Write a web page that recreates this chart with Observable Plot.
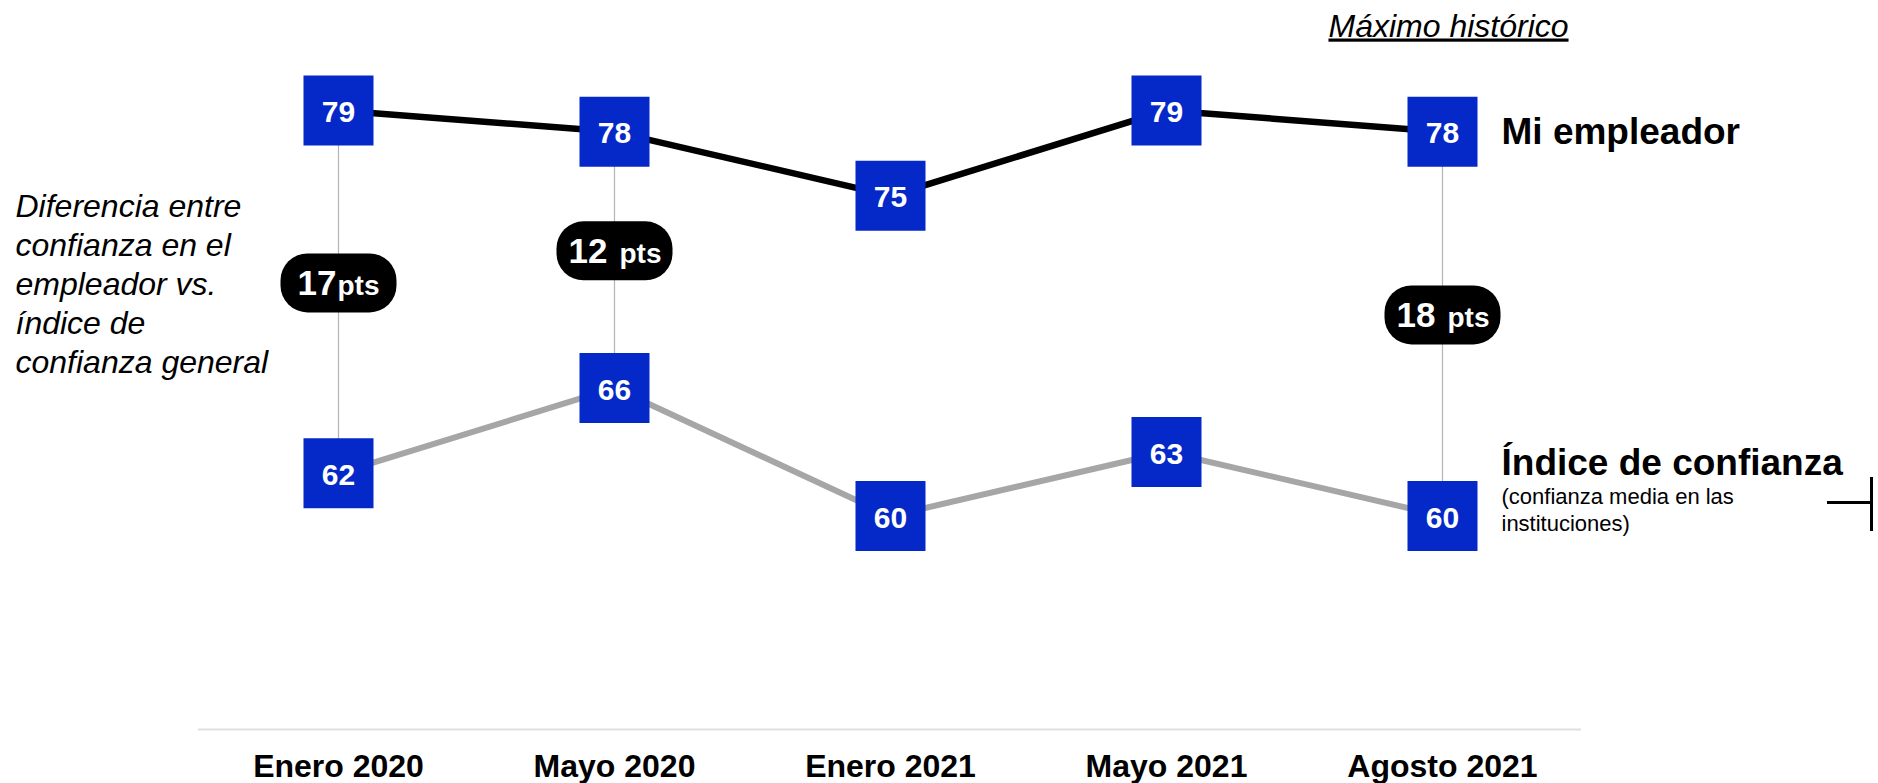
<!DOCTYPE html>
<html>
<head>
<meta charset="utf-8">
<script src="https://cdn.jsdelivr.net/npm/d3@7"></script>
<script src="https://cdn.jsdelivr.net/npm/@observablehq/plot@0.6"></script>
<style>
  html, body { margin: 0; padding: 0; background: #fff; }
  #chart { position: relative; width: 1878px; height: 783px; overflow: hidden; }
  #chart svg { display: block; }
  .bracket-h { position: absolute; left: 1827px; top: 501px; width: 45px; height: 3px; background: #000; }
  .bracket-v { position: absolute; left: 1870px; top: 477px; width: 3px; height: 54px; background: #000; }
</style>
</head>
<body>
<div id="chart"></div>
<script>
// ---- data ----
const dates = ["Enero 2020", "Mayo 2020", "Enero 2021", "Mayo 2021", "Agosto 2021"];
const employer = [79, 78, 75, 79, 78];
const trustIndex = [62, 66, 60, 63, 60];
const gapDates = ["Enero 2020", "Mayo 2020", "Agosto 2021"];
const gapLabels = ["17pts", "12 pts", "18 pts"];
const seriesNames = ["Mi empleador", "Índice de confianza"];
const indexNote = "(confianza media en las\ninstituciones)";
const peakNote = "Máximo histórico";
const peakDate = "Agosto 2021";
const sideNote = "Diferencia entre\nconfianza en el\nempleador vs.\níndice de\nconfianza general";

// ---- derived tables ----
const emp = dates.map((d, i) => ({date: d, value: employer[i]}));
const idx = dates.map((d, i) => ({date: d, value: trustIndex[i]}));
const gaps = gapDates.map((d, i) => {
  const j = dates.indexOf(d);
  const m = gapLabels[i].match(/^(\d+)(\s*)(.*)$/);
  return {date: d, top: employer[j], bottom: trustIndex[j], mid: (employer[j] + trustIndex[j]) / 2,
          num: m[1], spaced: m[2].length > 0, unit: m[3]};
});

const BLUE = "#0529c8";
const FONT = "'Liberation Sans', Arial, Helvetica, sans-serif";

// rounded pill symbol
const pill = {
  draw(ctx) {
    const w = 116, h = 59, r = 27;
    const x0 = -w / 2, x1 = w / 2, y0 = -h / 2, y1 = h / 2;
    ctx.moveTo(x0 + r, y0);
    ctx.lineTo(x1 - r, y0);
    ctx.arcTo(x1, y0, x1, y0 + r, r);
    ctx.lineTo(x1, y1 - r);
    ctx.arcTo(x1, y1, x1 - r, y1, r);
    ctx.lineTo(x0 + r, y1);
    ctx.arcTo(x0, y1, x0, y1 - r, r);
    ctx.lineTo(x0, y0 + r);
    ctx.arcTo(x0, y0, x0 + r, y0, r);
    ctx.closePath();
  }
};

const chart = Plot.plot({
  width: 1878,
  height: 783,
  marginTop: 88.6,
  marginBottom: 54,
  marginLeft: 198,
  marginRight: 297,
  x: {type: "point", domain: dates, padding: 0.5, axis: null},
  y: {domain: [50, 80], axis: null},
  style: {fontFamily: FONT, background: "#fff", color: "#000", overflow: "visible"},
  marks: [
    Plot.ruleY([50], {stroke: "#e0e0e0", strokeWidth: 2}),
    Plot.axisX({tickSize: 0, tickPadding: 25, fontSize: 32, fontWeight: "bold", label: null}),
    Plot.ruleX(gaps, {x: "date", y1: "top", y2: "bottom", stroke: "#b4b4b4", strokeWidth: 1.2}),
    Plot.line(idx, {x: "date", y: "value", stroke: "#a6a6a6", strokeWidth: 6}),
    Plot.line(emp, {x: "date", y: "value", stroke: "#000", strokeWidth: 6.5}),
    Plot.dot([...emp, ...idx], {x: "date", y: "value", symbol: "square", r: 39.5, fill: BLUE, stroke: null}),
    Plot.text([...emp, ...idx], {x: "date", y: "value", text: "value", fill: "#fff", fontSize: 30, fontWeight: "bold", dy: 2}),
    // gap pills
    Plot.dot(gaps, {x: "date", y: "mid", symbol: pill, r: 10, fill: "#000", stroke: null, dy: -9}),
    Plot.text(gaps.filter(g => !g.spaced), {x: "date", y: "mid", text: "num", fill: "#fff", fontSize: 35, fontWeight: "bold", textAnchor: "end", lineAnchor: "bottom", dx: -2, dy: 3}),
    Plot.text(gaps.filter(g => !g.spaced), {x: "date", y: "mid", text: "unit", fill: "#fff", fontSize: 28, fontWeight: "bold", textAnchor: "start", lineAnchor: "bottom", dx: -1, dy: 3}),
    Plot.text(gaps.filter(g => g.spaced), {x: "date", y: "mid", text: "num", fill: "#fff", fontSize: 35, fontWeight: "bold", textAnchor: "end", lineAnchor: "bottom", dx: -7, dy: 3}),
    Plot.text(gaps.filter(g => g.spaced), {x: "date", y: "mid", text: "unit", fill: "#fff", fontSize: 28, fontWeight: "bold", textAnchor: "start", lineAnchor: "bottom", dx: 5, dy: 3}),
    // series labels
    Plot.text([emp[emp.length - 1]], {x: "date", y: "value", text: () => seriesNames[0], textAnchor: "start", dx: 59, fontSize: 37, fontWeight: "bold", fill: "#000"}),
    Plot.text([idx[idx.length - 1]], {x: "date", y: "value", text: () => seriesNames[1], textAnchor: "start", lineAnchor: "bottom", dx: 59, dy: -40.6, fontSize: 37, fontWeight: "bold", fill: "#000"}),
    Plot.text([idx[idx.length - 1]], {x: "date", y: "value", text: () => indexNote, textAnchor: "start", lineAnchor: "top", dx: 59, dy: -31.8, fontSize: 22, lineHeight: 1.25, fill: "#000"}),
    // annotations
    Plot.text([sideNote], {frameAnchor: "top-left", text: d => d, textAnchor: "start", lineAnchor: "top", fontSize: 32, fontStyle: "italic", lineHeight: 1.22, dx: -183, dy: 99.7, fill: "#000"}),
    Plot.text([peakDate], {x: d => d, frameAnchor: "top", text: () => peakNote, lineAnchor: "bottom", fontSize: 32, fontStyle: "italic", dx: 6, dy: -52.6, fill: "#000"})
  ]
});

// underline the peak annotation
chart.querySelectorAll("text").forEach(t => {
  if (t.textContent === peakNote) t.style.textDecoration = "underline";
});
chart.querySelectorAll('[aria-label="x-axis tick label"] text, [aria-label="x-axis tick label"]').forEach(t => {
  t.setAttribute("font-weight", "bold");
});

const host = document.getElementById("chart");
host.appendChild(chart);
const bh = document.createElement("div"); bh.className = "bracket-h"; host.appendChild(bh);
const bv = document.createElement("div"); bv.className = "bracket-v"; host.appendChild(bv);
</script>
</body>
</html>
